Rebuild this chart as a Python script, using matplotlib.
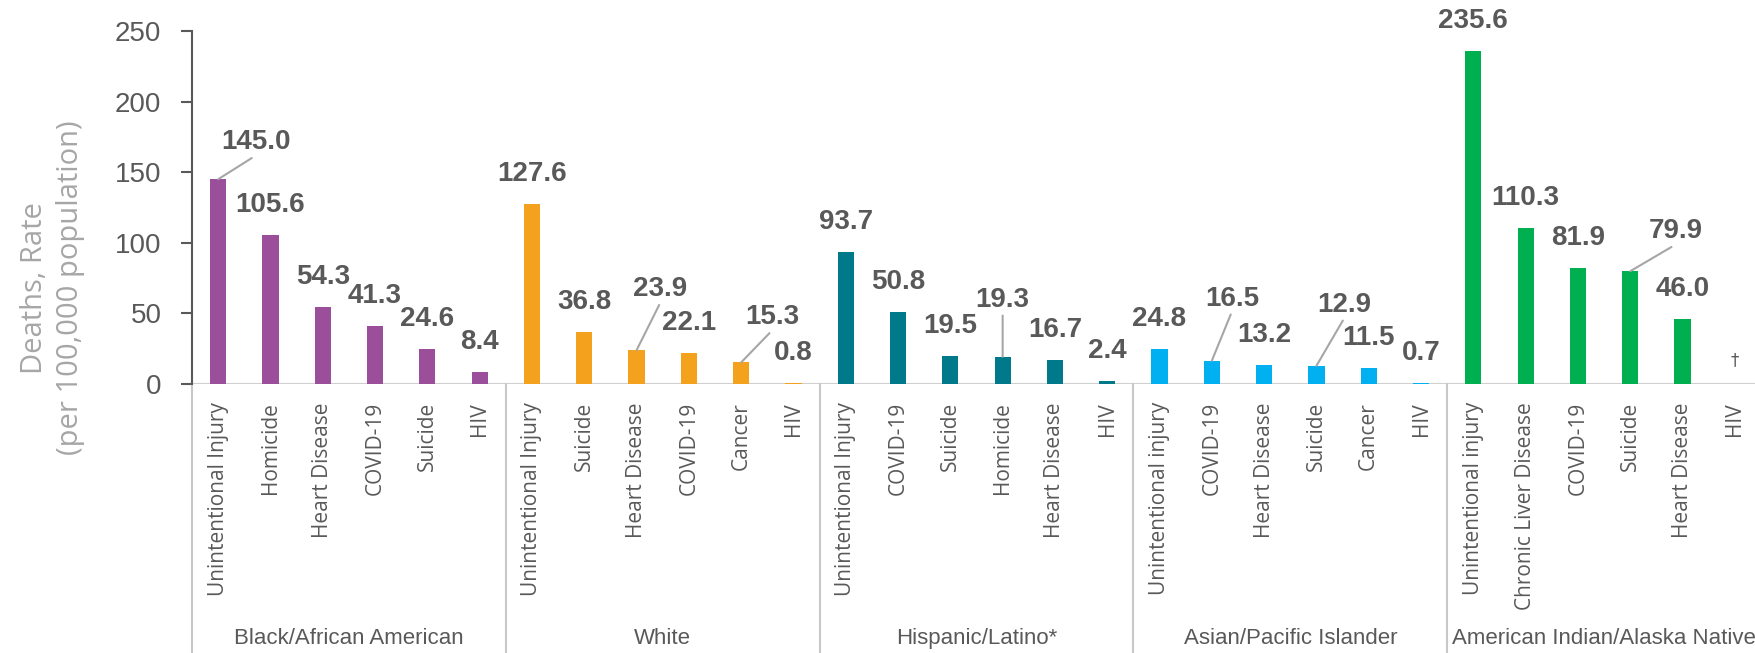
import numpy as np
import matplotlib.pyplot as plt

groups = ["Black/African American", "White", "Hispanic/Latino*",
          "Asian/Pacific Islander", "American Indian/Alaska Native"]

black_causes = ["Unintentional Injury", "Homicide", "Heart Disease", "COVID-19", "Suicide", "HIV"]
black_rates = [145.0, 105.6, 54.3, 41.3, 24.6, 8.4]
white_causes = ["Unintentional Injury", "Suicide", "Heart Disease", "COVID-19", "Cancer", "HIV"]
white_rates = [127.6, 36.8, 23.9, 22.1, 15.3, 0.8]
hispanic_causes = ["Unintentional Injury", "COVID-19", "Suicide", "Homicide", "Heart Disease", "HIV"]
hispanic_rates = [93.7, 50.8, 19.5, 19.3, 16.7, 2.4]
asian_causes = ["Unintentional injury", "COVID-19", "Heart Disease", "Suicide", "Cancer", "HIV"]
asian_rates = [24.8, 16.5, 13.2, 12.9, 11.5, 0.7]
aian_causes = ["Unintentional injury", "Chronic Liver Disease", "COVID-19", "Suicide", "Heart Disease", "HIV"]
aian_rates = [235.6, 110.3, 81.9, 79.9, 46.0, np.nan]  # HIV suppressed -> dagger

group_colors = ["#9B4F9B", "#F4A11E", "#007A8A", "#00B0F0", "#00B050"]

causes = black_causes + white_causes + hispanic_causes + asian_causes + aian_causes
rates = black_rates + white_rates + hispanic_rates + asian_rates + aian_rates
n_per = 6
colors = [c for c in group_colors for _ in range(n_per)]

# label offsets (pixels) for labels moved off the default position, with leader lines
moved = {0: (38, 37), 8: (24, 61), 10: (31, 45), 15: (0, 57),
         19: (20, 62), 21: (28, 61), 27: (46, 40)}

dark = "#595959"
fig = plt.figure(figsize=(17.56, 6.53), dpi=100)
ax = fig.add_axes([192 / 1756, 269 / 653, 1569 / 1756, 353 / 653])

x = np.arange(len(rates))
ax.bar(x, rates, width=0.31, color=colors, zorder=3)

for i, v in enumerate(rates):
    if np.isnan(v):
        ax.annotate("\u2020", (i, 0), xytext=(0, 24), textcoords="offset pixels",
                    ha="center", va="center", fontsize=12, color=dark,
                    family="DejaVu Sans")
        continue
    txt = f"{v:.1f}"
    if i in moved:
        ax.annotate(txt, (i, v), xytext=moved[i], textcoords="offset pixels",
                    ha="center", va="center", fontsize=20, fontweight="bold",
                    color=dark, family="Liberation Sans",
                    arrowprops=dict(arrowstyle="-", color="#A6A6A6", lw=1.5,
                                    shrinkA=0, shrinkB=0, relpos=(0.5, 0.0)))
    else:
        ax.annotate(txt, (i, v), xytext=(0, 30), textcoords="offset pixels",
                    ha="center", va="center", fontsize=20, fontweight="bold",
                    color=dark, family="Liberation Sans")

ax.set_xlim(-0.5, len(rates) - 0.5)
ax.set_ylim(0, 250)
ax.set_yticks(range(0, 251, 50))
ax.tick_params(axis="y", length=8, width=1.5, color=dark, pad=14,
               labelsize=20, labelcolor=dark)
for lab in ax.get_yticklabels():
    lab.set_family("Liberation Sans")

ax.set_xticks(x)
ax.set_xticklabels(causes, rotation=90, family="Open Sans", fontsize=15, color=dark)
ax.tick_params(axis="x", length=0, pad=13)

for s in ["top", "right", "bottom"]:
    ax.spines[s].set_visible(False)
ax.spines["left"].set_color(dark)
ax.spines["left"].set_linewidth(1.5)
ax.axhline(0, color="#D0D0D0", lw=1.5, zorder=2)

# group separators and group names below the category labels
trans = ax.get_xaxis_transform()
for g in range(len(groups) + 1):
    xs = g * n_per - 0.5
    ax.plot([xs, xs], [0, -0.8], transform=trans, color="#C8C8C8", lw=1.5,
            clip_on=False)
for g, name in enumerate(groups):
    ax.text(g * n_per + 2.5, -0.72, name, transform=trans, ha="center",
            va="center", fontsize=16, color=dark, family="Liberation Sans")

fig.text(0.03, 0.559, "Deaths, Rate\n(per 100,000 population)", rotation=90,
         ha="center", va="center", multialignment="center", fontsize=21,
         color="#A6A6A6", family="Open Sans", linespacing=1.3)

fig.savefig("out.png", dpi=100)
